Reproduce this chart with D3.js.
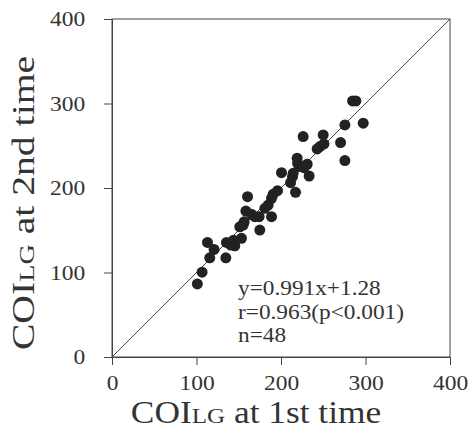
<!DOCTYPE html>
<html>
<head>
<meta charset="utf-8">
<script src="https://cdn.jsdelivr.net/npm/d3@7"></script>
<style>
  body { margin: 0; background: #fff; }
  text { font-family: "Liberation Serif", "Times New Roman", serif; fill: #333; }
</style>
</head>
<body>
<div id="scatter"></div>
<script>
// data (1st time, 2nd time)
var firstTime = [101, 106.6, 113, 115.7, 120.8, 134.7, 135.5, 140.6, 145.3, 143.9,
  153.2, 151.2, 156.4, 155.2, 160.4, 158.4, 165.1, 169, 174.1, 174.9,
  180.9, 184.8, 188.8, 188.8, 190.7, 195.9, 200.6, 211.3, 213.6, 214.4,
  217.2, 219.1, 219.6, 222.3, 226.2, 227.1, 231, 233.3, 242.8, 246,
  249.9, 250.8, 270.5, 275.6, 275.6, 284.7, 288.6, 297.3];
var secondTime = [86.5, 100.4, 135.6, 117.4, 127.3, 117.4, 135.6, 132.4, 131.6, 138.3,
  140.4, 154.1, 160, 156.1, 189.7, 172.7, 168.8, 166, 166, 150.2,
  175.9, 179.8, 166, 187.8, 192.5, 196.8, 218.1, 206.3, 213.4, 217.4,
  194.9, 235.2, 229.3, 225.3, 260.8, 224.1, 228.1, 214.2, 246.2, 249,
  262.8, 252.2, 253.7, 274.7, 232.4, 303.1, 303.1, 276.7];
var tickValues = [0, 100, 200, 300, 400];
var statLines = ["y=0.991x+1.28", "r=0.963(p<0.001)", "n=48"];

var margin = {top: 19, right: 20, bottom: 75, left: 112},
    width = 470 - margin.left - margin.right,
    height = 432 - margin.top - margin.bottom;

var svg = d3.select("#scatter")
  .append("svg")
  .attr("width", 470)
  .attr("height", 432)
  .append("g")
  .attr("transform", "translate(" + margin.left + "," + margin.top + ")");

var x = d3.scaleLinear().domain([0, 400]).range([0, 338]);
var y = d3.scaleLinear().domain([0, 400]).range([338, 0]);

// frame
svg.append("rect")
  .attr("x", 0).attr("y", 0)
  .attr("width", x(400)).attr("height", y(0))
  .attr("fill", "none")
  .attr("stroke", "#444")
  .attr("stroke-width", 1);

// x axis
var xAxis = svg.append("g")
  .attr("transform", "translate(0," + y(0) + ")")
  .call(d3.axisBottom(x).tickValues(tickValues).tickSize(8).tickPadding(10).tickSizeOuter(0));

// y axis
var yAxis = svg.append("g")
  .call(d3.axisLeft(y).tickValues(tickValues).tickSize(8).tickPadding(16).tickSizeOuter(0));

// the scanned figure's text is a little wide, so stretch it horizontally
[xAxis, yAxis].forEach(function(a) {
  a.attr("font-family", "Liberation Serif").attr("font-size", 21);
  a.select(".domain").attr("stroke", "#444");
  a.selectAll(".tick line").attr("stroke", "#444");
  a.selectAll(".tick text")
    .attr("fill", "#444")
    .attr("transform", "scale(1.12,1)");
});

// identity line
svg.append("line")
  .attr("x1", x(0)).attr("y1", y(0))
  .attr("x2", x(400)).attr("y2", y(400))
  .attr("stroke", "#444")
  .attr("stroke-width", 1);

// dots
var pts = firstTime.map(function(v, i) { return {a: v, b: secondTime[i]}; });
svg.selectAll("circle.dot")
  .data(pts)
  .enter()
  .append("circle")
  .attr("class", "dot")
  .attr("cx", d => x(d.a))
  .attr("cy", d => y(d.b))
  .attr("r", 5.5)
  .attr("fill", "#222");

// stats text
svg.selectAll("text.stat")
  .data(statLines)
  .enter()
  .append("text")
  .attr("class", "stat")
  .attr("transform", (d, i) => "translate(126," + (276 + i * 23.5) + ") scale(1.11,1)")
  .style("font-size", "21px")
  .text(d => d);

// x label
var xl = svg.append("text")
  .attr("text-anchor", "middle")
  .attr("transform", "translate(144,404) scale(1.14,1)")
  .style("font-size", "31px");
xl.append("tspan").text("COI");
xl.append("tspan").style("font-size", "22px").text("LG");
xl.append("tspan").text(" at 1st time");

// y label
var yl = svg.append("text")
  .attr("text-anchor", "middle")
  .attr("transform", "translate(-78,184) rotate(-90) scale(1.28,1)")
  .style("font-size", "31px");
yl.append("tspan").text("COI");
yl.append("tspan").style("font-size", "22px").text("LG");
yl.append("tspan").text(" at 2nd time");
</script>
</body>
</html>
